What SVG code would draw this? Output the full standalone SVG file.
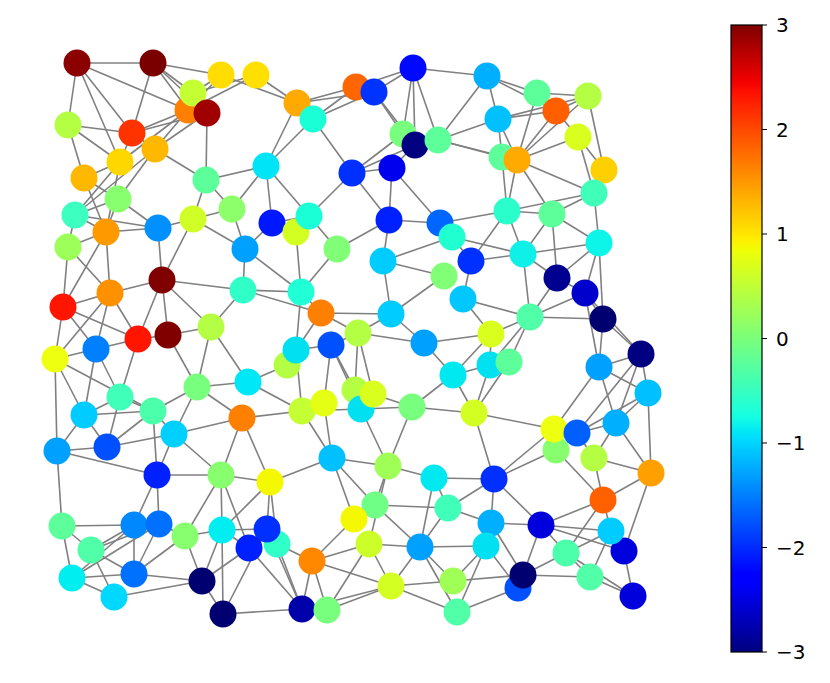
<svg xmlns="http://www.w3.org/2000/svg" width="830" height="683" viewBox="0 0 830 683">
<style>
.edges line{stroke:#808080;stroke-width:1.6}
.tick{stroke:#000;stroke-width:1}
.lbl{font-family:"DejaVu Sans",sans-serif;font-size:20px;fill:#000}
</style>
<defs>
<linearGradient id="jet" x1="0" y1="1" x2="0" y2="0">
<stop offset="0" stop-color="#000080"/>
<stop offset="0.11" stop-color="#0000ff"/>
<stop offset="0.125" stop-color="#0000ff"/>
<stop offset="0.34" stop-color="#00dbff"/>
<stop offset="0.35" stop-color="#00e5f7"/>
<stop offset="0.375" stop-color="#15ffe2"/>
<stop offset="0.5" stop-color="#7bff7b"/>
<stop offset="0.64" stop-color="#eeff08"/>
<stop offset="0.65" stop-color="#f7f500"/>
<stop offset="0.66" stop-color="#ffec00"/>
<stop offset="0.89" stop-color="#ff1300"/>
<stop offset="0.91" stop-color="#f30000"/>
<stop offset="1" stop-color="#800000"/>
</linearGradient>
</defs>
<rect width="830" height="683" fill="#fff"/>
<g class="edges">
<line x1="77" y1="63" x2="153" y2="63"/><line x1="77" y1="63" x2="68" y2="125"/><line x1="77" y1="63" x2="132" y2="133"/><line x1="77" y1="63" x2="120" y2="162"/><line x1="77" y1="63" x2="188" y2="110"/>
<line x1="153" y1="63" x2="221" y2="75"/><line x1="153" y1="63" x2="132" y2="133"/><line x1="153" y1="63" x2="193" y2="93"/><line x1="153" y1="63" x2="188" y2="110"/><line x1="153" y1="63" x2="207" y2="113"/>
<line x1="221" y1="75" x2="193" y2="93"/><line x1="221" y1="75" x2="188" y2="110"/><line x1="221" y1="75" x2="297" y2="103"/>
<line x1="256" y1="75" x2="193" y2="93"/><line x1="256" y1="75" x2="188" y2="110"/><line x1="256" y1="75" x2="297" y2="103"/>
<line x1="68" y1="125" x2="132" y2="133"/><line x1="68" y1="125" x2="120" y2="162"/><line x1="68" y1="125" x2="84" y2="178"/>
<line x1="132" y1="133" x2="155" y2="149"/><line x1="132" y1="133" x2="120" y2="162"/><line x1="132" y1="133" x2="188" y2="110"/><line x1="132" y1="133" x2="207" y2="113"/>
<line x1="155" y1="149" x2="188" y2="110"/><line x1="155" y1="149" x2="207" y2="113"/><line x1="155" y1="149" x2="206" y2="180"/><line x1="155" y1="149" x2="118" y2="199"/><line x1="155" y1="149" x2="75" y2="215"/>
<line x1="120" y1="162" x2="188" y2="110"/><line x1="207" y1="113" x2="206" y2="180"/>
<line x1="120" y1="162" x2="84" y2="178"/><line x1="120" y1="162" x2="75" y2="215"/><line x1="120" y1="162" x2="106" y2="232"/>
<line x1="84" y1="178" x2="118" y2="199"/><line x1="84" y1="178" x2="106" y2="232"/>
<line x1="118" y1="199" x2="75" y2="215"/><line x1="118" y1="199" x2="106" y2="232"/><line x1="118" y1="199" x2="158" y2="228"/>
<line x1="75" y1="215" x2="106" y2="232"/><line x1="75" y1="215" x2="158" y2="228"/><line x1="75" y1="215" x2="68" y2="247"/>
<line x1="106" y1="232" x2="158" y2="228"/><line x1="106" y1="232" x2="68" y2="247"/>
<line x1="158" y1="228" x2="193" y2="219"/><line x1="158" y1="228" x2="162" y2="280"/>
<line x1="206" y1="180" x2="193" y2="219"/><line x1="206" y1="180" x2="232" y2="209"/><line x1="206" y1="180" x2="266" y2="166"/>
<line x1="193" y1="219" x2="232" y2="209"/><line x1="193" y1="219" x2="245" y2="249"/><line x1="193" y1="219" x2="162" y2="280"/>
<line x1="232" y1="209" x2="266" y2="166"/><line x1="232" y1="209" x2="245" y2="249"/>
<line x1="106" y1="232" x2="63" y2="307"/><line x1="106" y1="232" x2="110" y2="293"/><line x1="68" y1="247" x2="63" y2="307"/><line x1="68" y1="247" x2="110" y2="293"/>
<line x1="297" y1="103" x2="356" y2="87"/><line x1="297" y1="103" x2="374" y2="92"/><line x1="297" y1="103" x2="266" y2="166"/>
<line x1="313" y1="119" x2="356" y2="87"/><line x1="313" y1="119" x2="374" y2="92"/><line x1="313" y1="119" x2="266" y2="166"/><line x1="313" y1="119" x2="352" y2="173"/>
<line x1="356" y1="87" x2="413" y2="68"/><line x1="374" y1="92" x2="413" y2="68"/><line x1="374" y1="92" x2="403" y2="134"/><line x1="374" y1="92" x2="415" y2="145"/>
<line x1="413" y1="68" x2="403" y2="134"/><line x1="413" y1="68" x2="415" y2="145"/><line x1="413" y1="68" x2="438" y2="140"/><line x1="413" y1="68" x2="487" y2="76"/>
<line x1="438" y1="140" x2="487" y2="76"/><line x1="438" y1="140" x2="498" y2="119"/><line x1="438" y1="140" x2="502" y2="157"/><line x1="438" y1="140" x2="517" y2="160"/>
<line x1="352" y1="173" x2="403" y2="134"/><line x1="352" y1="173" x2="415" y2="145"/><line x1="352" y1="173" x2="392" y2="168"/><line x1="352" y1="173" x2="389" y2="220"/><line x1="352" y1="173" x2="309" y2="216"/>
<line x1="392" y1="168" x2="415" y2="145"/><line x1="392" y1="168" x2="389" y2="220"/><line x1="392" y1="168" x2="440" y2="223"/>
<line x1="266" y1="166" x2="272" y2="223"/><line x1="266" y1="166" x2="309" y2="216"/>
<line x1="272" y1="223" x2="309" y2="216"/><line x1="272" y1="223" x2="296" y2="232"/><line x1="272" y1="223" x2="245" y2="249"/>
<line x1="309" y1="216" x2="296" y2="232"/><line x1="309" y1="216" x2="337" y2="249"/>
<line x1="296" y1="232" x2="301" y2="292"/><line x1="245" y1="249" x2="301" y2="292"/><line x1="245" y1="249" x2="243" y2="290"/>
<line x1="337" y1="249" x2="389" y2="220"/><line x1="337" y1="249" x2="301" y2="292"/>
<line x1="389" y1="220" x2="440" y2="223"/><line x1="389" y1="220" x2="383" y2="261"/>
<line x1="440" y1="223" x2="452" y2="237"/><line x1="440" y1="223" x2="507" y2="211"/>
<line x1="452" y1="237" x2="383" y2="261"/><line x1="452" y1="237" x2="523" y2="254"/><line x1="452" y1="237" x2="471" y2="261"/>
<line x1="487" y1="76" x2="537" y2="93"/><line x1="487" y1="76" x2="556" y2="111"/><line x1="487" y1="76" x2="498" y2="119"/>
<line x1="537" y1="93" x2="588" y2="96"/><line x1="537" y1="93" x2="517" y2="160"/>
<line x1="498" y1="119" x2="588" y2="96"/><line x1="498" y1="119" x2="556" y2="111"/>
<line x1="588" y1="96" x2="556" y2="111"/><line x1="588" y1="96" x2="604" y2="170"/><line x1="588" y1="96" x2="517" y2="160"/>
<line x1="556" y1="111" x2="517" y2="160"/><line x1="556" y1="111" x2="578" y2="137"/>
<line x1="578" y1="137" x2="517" y2="160"/><line x1="578" y1="137" x2="604" y2="170"/><line x1="578" y1="137" x2="594" y2="193"/>
<line x1="498" y1="119" x2="502" y2="157"/><line x1="498" y1="119" x2="517" y2="160"/>
<line x1="502" y1="157" x2="507" y2="211"/><line x1="517" y1="160" x2="507" y2="211"/><line x1="517" y1="160" x2="594" y2="193"/><line x1="517" y1="160" x2="552" y2="214"/>
<line x1="604" y1="170" x2="594" y2="193"/>
<line x1="594" y1="193" x2="599" y2="243"/><line x1="594" y1="193" x2="552" y2="214"/><line x1="594" y1="193" x2="507" y2="211"/>
<line x1="507" y1="211" x2="552" y2="214"/><line x1="507" y1="211" x2="523" y2="254"/><line x1="507" y1="211" x2="471" y2="261"/>
<line x1="552" y1="214" x2="599" y2="243"/><line x1="599" y1="243" x2="523" y2="254"/><line x1="552" y1="214" x2="523" y2="254"/>
<line x1="162" y1="280" x2="243" y2="290"/><line x1="162" y1="280" x2="110" y2="293"/><line x1="162" y1="280" x2="138" y2="339"/><line x1="162" y1="280" x2="168" y2="335"/><line x1="162" y1="280" x2="211" y2="327"/>
<line x1="243" y1="290" x2="211" y2="327"/><line x1="243" y1="290" x2="301" y2="292"/><line x1="243" y1="290" x2="321" y2="313"/>
<line x1="63" y1="307" x2="110" y2="293"/><line x1="63" y1="307" x2="138" y2="339"/><line x1="63" y1="307" x2="55" y2="359"/><line x1="63" y1="307" x2="96" y2="349"/>
<line x1="110" y1="293" x2="138" y2="339"/><line x1="110" y1="293" x2="55" y2="359"/><line x1="110" y1="293" x2="96" y2="349"/>
<line x1="138" y1="339" x2="96" y2="349"/><line x1="138" y1="339" x2="168" y2="335"/><line x1="138" y1="339" x2="120" y2="397"/>
<line x1="168" y1="335" x2="211" y2="327"/><line x1="168" y1="335" x2="197" y2="387"/>
<line x1="211" y1="327" x2="197" y2="387"/><line x1="211" y1="327" x2="248" y2="382"/>
<line x1="55" y1="359" x2="96" y2="349"/><line x1="55" y1="359" x2="153" y2="411"/><line x1="55" y1="359" x2="84" y2="415"/><line x1="55" y1="359" x2="57" y2="451"/>
<line x1="96" y1="349" x2="120" y2="397"/><line x1="96" y1="349" x2="84" y2="415"/>
<line x1="197" y1="387" x2="248" y2="382"/><line x1="197" y1="387" x2="153" y2="411"/><line x1="197" y1="387" x2="174" y2="434"/><line x1="197" y1="387" x2="242" y2="418"/>
<line x1="120" y1="397" x2="153" y2="411"/><line x1="120" y1="397" x2="84" y2="415"/><line x1="120" y1="397" x2="107" y2="447"/>
<line x1="153" y1="411" x2="84" y2="415"/><line x1="153" y1="411" x2="174" y2="434"/><line x1="153" y1="411" x2="107" y2="447"/><line x1="153" y1="411" x2="157" y2="475"/>
<line x1="84" y1="415" x2="57" y2="451"/><line x1="84" y1="415" x2="107" y2="447"/>
<line x1="174" y1="434" x2="242" y2="418"/><line x1="242" y1="418" x2="221" y2="475"/><line x1="242" y1="418" x2="270" y2="482"/>
<line x1="57" y1="451" x2="107" y2="447"/>
<line x1="301" y1="292" x2="321" y2="313"/><line x1="301" y1="292" x2="296" y2="350"/>
<line x1="383" y1="261" x2="444" y2="276"/><line x1="383" y1="261" x2="391" y2="314"/>
<line x1="321" y1="313" x2="391" y2="314"/><line x1="321" y1="313" x2="358" y2="333"/><line x1="321" y1="313" x2="296" y2="350"/>
<line x1="391" y1="314" x2="358" y2="333"/><line x1="391" y1="314" x2="444" y2="276"/><line x1="391" y1="314" x2="424" y2="343"/>
<line x1="358" y1="333" x2="424" y2="343"/><line x1="358" y1="333" x2="331" y2="345"/><line x1="358" y1="333" x2="355" y2="390"/><line x1="358" y1="333" x2="373" y2="394"/>
<line x1="331" y1="345" x2="296" y2="350"/><line x1="331" y1="345" x2="355" y2="390"/><line x1="331" y1="345" x2="324" y2="403"/><line x1="331" y1="345" x2="361" y2="409"/>
<line x1="296" y1="350" x2="302" y2="411"/><line x1="287" y1="365" x2="248" y2="382"/><line x1="248" y1="382" x2="302" y2="411"/><line x1="242" y1="418" x2="302" y2="411"/>
<line x1="424" y1="343" x2="491" y2="334"/><line x1="424" y1="343" x2="453" y2="375"/>
<line x1="453" y1="375" x2="412" y2="407"/><line x1="453" y1="375" x2="490" y2="365"/>
<line x1="373" y1="394" x2="412" y2="407"/><line x1="361" y1="409" x2="412" y2="407"/>
<line x1="324" y1="403" x2="302" y2="411"/><line x1="302" y1="411" x2="361" y2="409"/><line x1="361" y1="409" x2="388" y2="466"/>
<line x1="324" y1="403" x2="332" y2="458"/><line x1="302" y1="411" x2="332" y2="458"/>
<line x1="412" y1="407" x2="388" y2="466"/><line x1="412" y1="407" x2="474" y2="413"/>
<line x1="523" y1="254" x2="471" y2="261"/><line x1="523" y1="254" x2="557" y2="278"/><line x1="523" y1="254" x2="530" y2="317"/>
<line x1="599" y1="243" x2="557" y2="278"/><line x1="599" y1="243" x2="585" y2="293"/><line x1="599" y1="243" x2="603" y2="319"/>
<line x1="552" y1="214" x2="557" y2="278"/><line x1="557" y1="278" x2="585" y2="293"/><line x1="557" y1="278" x2="530" y2="317"/>
<line x1="585" y1="293" x2="530" y2="317"/><line x1="585" y1="293" x2="603" y2="319"/><line x1="530" y1="317" x2="603" y2="319"/>
<line x1="471" y1="261" x2="463" y2="299"/><line x1="463" y1="299" x2="530" y2="317"/><line x1="463" y1="299" x2="491" y2="334"/>
<line x1="530" y1="317" x2="491" y2="334"/><line x1="530" y1="317" x2="509" y2="362"/><line x1="530" y1="317" x2="490" y2="365"/>
<line x1="491" y1="334" x2="490" y2="365"/><line x1="491" y1="334" x2="453" y2="375"/>
<line x1="490" y1="365" x2="474" y2="413"/><line x1="509" y1="362" x2="474" y2="413"/><line x1="453" y1="375" x2="474" y2="413"/>
<line x1="603" y1="319" x2="641" y2="354"/><line x1="585" y1="293" x2="641" y2="354"/><line x1="603" y1="319" x2="599" y2="367"/><line x1="585" y1="293" x2="599" y2="367"/>
<line x1="641" y1="354" x2="599" y2="367"/><line x1="641" y1="354" x2="648" y2="393"/><line x1="641" y1="354" x2="616" y2="423"/><line x1="641" y1="354" x2="577" y2="433"/>
<line x1="599" y1="367" x2="648" y2="393"/><line x1="599" y1="367" x2="616" y2="423"/><line x1="599" y1="367" x2="554" y2="429"/>
<line x1="648" y1="393" x2="577" y2="433"/><line x1="648" y1="393" x2="616" y2="423"/><line x1="648" y1="393" x2="651" y2="473"/>
<line x1="474" y1="413" x2="554" y2="429"/><line x1="474" y1="413" x2="494" y2="479"/><line x1="554" y1="429" x2="494" y2="479"/>
<line x1="577" y1="433" x2="616" y2="423"/><line x1="577" y1="433" x2="594" y2="458"/><line x1="616" y1="423" x2="594" y2="458"/><line x1="616" y1="423" x2="651" y2="473"/>
<line x1="57" y1="451" x2="157" y2="475"/><line x1="57" y1="451" x2="62" y2="526"/>
<line x1="107" y1="447" x2="174" y2="434"/><line x1="174" y1="434" x2="157" y2="475"/>
<line x1="157" y1="475" x2="221" y2="475"/><line x1="157" y1="475" x2="159" y2="524"/><line x1="157" y1="475" x2="134" y2="525"/>
<line x1="174" y1="434" x2="221" y2="475"/><line x1="221" y1="475" x2="222" y2="530"/><line x1="221" y1="475" x2="185" y2="536"/><line x1="221" y1="475" x2="249" y2="548"/>
<line x1="62" y1="526" x2="134" y2="525"/><line x1="62" y1="526" x2="91" y2="550"/><line x1="62" y1="526" x2="72" y2="578"/>
<line x1="134" y1="525" x2="159" y2="524"/><line x1="134" y1="525" x2="91" y2="550"/><line x1="134" y1="525" x2="72" y2="578"/><line x1="159" y1="524" x2="72" y2="578"/><line x1="159" y1="524" x2="91" y2="550"/>
<line x1="134" y1="525" x2="134" y2="574"/><line x1="159" y1="524" x2="134" y2="574"/><line x1="159" y1="524" x2="185" y2="536"/><line x1="185" y1="536" x2="134" y2="574"/>
<line x1="185" y1="536" x2="222" y2="530"/><line x1="185" y1="536" x2="202" y2="581"/>
<line x1="222" y1="530" x2="202" y2="581"/><line x1="222" y1="530" x2="223" y2="614"/><line x1="222" y1="530" x2="249" y2="548"/>
<line x1="91" y1="550" x2="134" y2="574"/><line x1="91" y1="550" x2="114" y2="597"/>
<line x1="72" y1="578" x2="134" y2="574"/><line x1="72" y1="578" x2="114" y2="597"/>
<line x1="134" y1="574" x2="202" y2="581"/><line x1="114" y1="597" x2="202" y2="581"/><line x1="202" y1="581" x2="223" y2="614"/><line x1="202" y1="581" x2="249" y2="548"/>
<line x1="223" y1="614" x2="302" y2="609"/><line x1="223" y1="614" x2="267" y2="529"/>
<line x1="332" y1="458" x2="388" y2="466"/><line x1="332" y1="458" x2="270" y2="482"/><line x1="332" y1="458" x2="375" y2="505"/><line x1="332" y1="458" x2="354" y2="519"/>
<line x1="270" y1="482" x2="221" y2="475"/><line x1="270" y1="482" x2="267" y2="529"/><line x1="270" y1="482" x2="277" y2="544"/><line x1="270" y1="482" x2="222" y2="530"/>
<line x1="388" y1="466" x2="434" y2="478"/><line x1="388" y1="466" x2="375" y2="505"/><line x1="388" y1="466" x2="369" y2="544"/>
<line x1="434" y1="478" x2="448" y2="508"/><line x1="434" y1="478" x2="420" y2="547"/><line x1="434" y1="478" x2="494" y2="479"/>
<line x1="375" y1="505" x2="448" y2="508"/><line x1="375" y1="505" x2="354" y2="519"/><line x1="375" y1="505" x2="420" y2="547"/>
<line x1="448" y1="508" x2="420" y2="547"/><line x1="448" y1="508" x2="494" y2="479"/>
<line x1="354" y1="519" x2="312" y2="561"/>
<line x1="369" y1="544" x2="420" y2="547"/><line x1="369" y1="544" x2="312" y2="561"/><line x1="369" y1="544" x2="391" y2="586"/><line x1="369" y1="544" x2="327" y2="610"/>
<line x1="420" y1="547" x2="391" y2="586"/><line x1="420" y1="547" x2="453" y2="581"/><line x1="420" y1="547" x2="457" y2="612"/><line x1="420" y1="547" x2="486" y2="546"/>
<line x1="312" y1="561" x2="391" y2="586"/><line x1="312" y1="561" x2="302" y2="609"/><line x1="312" y1="561" x2="327" y2="610"/><line x1="312" y1="561" x2="277" y2="544"/>
<line x1="391" y1="586" x2="453" y2="581"/><line x1="391" y1="586" x2="327" y2="610"/><line x1="391" y1="586" x2="302" y2="609"/><line x1="391" y1="586" x2="457" y2="612"/>
<line x1="277" y1="544" x2="302" y2="609"/><line x1="267" y1="529" x2="302" y2="609"/><line x1="249" y1="548" x2="302" y2="609"/>
<line x1="302" y1="609" x2="327" y2="610"/><line x1="249" y1="548" x2="267" y2="529"/><line x1="267" y1="529" x2="222" y2="530"/>
<line x1="494" y1="479" x2="556" y2="450"/><line x1="494" y1="479" x2="491" y2="523"/><line x1="494" y1="479" x2="541" y2="525"/>
<line x1="556" y1="450" x2="603" y2="500"/><line x1="594" y1="458" x2="603" y2="500"/><line x1="594" y1="458" x2="651" y2="473"/>
<line x1="651" y1="473" x2="603" y2="500"/><line x1="651" y1="473" x2="624" y2="551"/>
<line x1="603" y1="500" x2="541" y2="525"/><line x1="603" y1="500" x2="611" y2="531"/><line x1="603" y1="500" x2="566" y2="553"/>
<line x1="491" y1="523" x2="541" y2="525"/><line x1="491" y1="523" x2="486" y2="546"/><line x1="491" y1="523" x2="523" y2="575"/><line x1="491" y1="523" x2="448" y2="508"/>
<line x1="541" y1="525" x2="611" y2="531"/><line x1="541" y1="525" x2="566" y2="553"/><line x1="541" y1="525" x2="523" y2="575"/><line x1="541" y1="525" x2="624" y2="551"/>
<line x1="611" y1="531" x2="566" y2="553"/><line x1="611" y1="531" x2="624" y2="551"/><line x1="624" y1="551" x2="633" y2="596"/>
<line x1="486" y1="546" x2="518" y2="588"/><line x1="486" y1="546" x2="453" y2="581"/><line x1="486" y1="546" x2="457" y2="612"/>
<line x1="566" y1="553" x2="523" y2="575"/><line x1="566" y1="553" x2="590" y2="577"/><line x1="566" y1="553" x2="633" y2="596"/>
<line x1="523" y1="575" x2="590" y2="577"/><line x1="523" y1="575" x2="453" y2="581"/><line x1="518" y1="588" x2="457" y2="612"/>
<line x1="590" y1="577" x2="633" y2="596"/><line x1="590" y1="577" x2="611" y2="531"/>
</g>
<g class="nodes">
<g id="n1"><circle cx="77" cy="63" r="13.5" fill="#8b0000"/></g>
<g id="n2"><circle cx="153" cy="63" r="13.5" fill="#7a0000"/></g>
<g id="n3"><circle cx="221" cy="75" r="13.5" fill="#ffdd00"/></g>
<g id="n4"><circle cx="256" cy="75" r="13.5" fill="#ffe000"/></g>
<g id="n6"><circle cx="188" cy="110" r="13.5" fill="#ff8000"/></g>
<g id="n5"><circle cx="193" cy="93" r="13.5" fill="#c4ff33"/></g>
<g id="n7"><circle cx="207" cy="113" r="13.5" fill="#a00000"/></g>
<g id="n8"><circle cx="68" cy="125" r="13.5" fill="#b4ff44"/></g>
<g id="n9"><circle cx="132" cy="133" r="13.5" fill="#ff3300"/></g>
<g id="n10"><circle cx="155" cy="149" r="13.5" fill="#ffb800"/></g>
<g id="n11"><circle cx="120" cy="162" r="13.5" fill="#ffd700"/></g>
<g id="n12"><circle cx="84" cy="178" r="13.5" fill="#ffb800"/></g>
<g id="n13"><circle cx="206" cy="180" r="13.5" fill="#5cff9a"/></g>
<g id="n14"><circle cx="118" cy="199" r="13.5" fill="#88ff6f"/></g>
<g id="n15"><circle cx="75" cy="215" r="13.5" fill="#3cffc0"/></g>
<g id="n16"><circle cx="106" cy="232" r="13.5" fill="#ff9900"/></g>
<g id="n17"><circle cx="158" cy="228" r="13.5" fill="#0090ff"/></g>
<g id="n18"><circle cx="193" cy="219" r="13.5" fill="#d0ff28"/></g>
<g id="n19"><circle cx="232" cy="209" r="13.5" fill="#8cff6a"/></g>
<g id="n20"><circle cx="68" cy="247" r="13.5" fill="#9cff5a"/></g>
<g id="n21"><circle cx="245" cy="249" r="13.5" fill="#00a0ff"/></g>
<g id="n22"><circle cx="266" cy="166" r="13.5" fill="#00e4f8"/></g>
<g id="n23"><circle cx="297" cy="103" r="13.5" fill="#ffaa00"/></g>
<g id="n24"><circle cx="313" cy="119" r="13.5" fill="#1affd5"/></g>
<g id="n25"><circle cx="356" cy="87" r="13.5" fill="#ff6600"/></g>
<g id="n26"><circle cx="374" cy="92" r="13.5" fill="#0033ff"/></g>
<g id="n27"><circle cx="413" cy="68" r="13.5" fill="#0008ff"/></g>
<g id="n28"><circle cx="403" cy="134" r="13.5" fill="#78ff7e"/></g>
<g id="n29"><circle cx="415" cy="145" r="13.5" fill="#000080"/></g>
<g id="n30"><circle cx="438" cy="140" r="13.5" fill="#5cff9a"/></g>
<g id="n31"><circle cx="352" cy="173" r="13.5" fill="#0030ff"/></g>
<g id="n32"><circle cx="392" cy="168" r="13.5" fill="#0000ee"/></g>
<g id="n33"><circle cx="272" cy="223" r="13.5" fill="#0018ff"/></g>
<g id="n35"><circle cx="296" cy="232" r="13.5" fill="#d4ff22"/></g>
<g id="n34"><circle cx="309" cy="216" r="13.5" fill="#1affd5"/></g>
<g id="n36"><circle cx="337" cy="249" r="13.5" fill="#80ff77"/></g>
<g id="n37"><circle cx="389" cy="220" r="13.5" fill="#0020ff"/></g>
<g id="n38"><circle cx="440" cy="223" r="13.5" fill="#0066ff"/></g>
<g id="n39"><circle cx="452" cy="237" r="13.5" fill="#20ffd0"/></g>
<g id="n40"><circle cx="383" cy="261" r="13.5" fill="#00ccff"/></g>
<g id="n41"><circle cx="487" cy="76" r="13.5" fill="#00b0ff"/></g>
<g id="n42"><circle cx="537" cy="93" r="13.5" fill="#5cff9a"/></g>
<g id="n43"><circle cx="588" cy="96" r="13.5" fill="#b4ff44"/></g>
<g id="n44"><circle cx="556" cy="111" r="13.5" fill="#ff5f00"/></g>
<g id="n45"><circle cx="498" cy="119" r="13.5" fill="#00c0ff"/></g>
<g id="n46"><circle cx="578" cy="137" r="13.5" fill="#d8ff1e"/></g>
<g id="n47"><circle cx="502" cy="157" r="13.5" fill="#5cff9a"/></g>
<g id="n48"><circle cx="517" cy="160" r="13.5" fill="#ffaa00"/></g>
<g id="n49"><circle cx="604" cy="170" r="13.5" fill="#ffd000"/></g>
<g id="n50"><circle cx="594" cy="193" r="13.5" fill="#40ffb8"/></g>
<g id="n51"><circle cx="507" cy="211" r="13.5" fill="#2affcc"/></g>
<g id="n52"><circle cx="552" cy="214" r="13.5" fill="#5cff9a"/></g>
<g id="n53"><circle cx="599" cy="243" r="13.5" fill="#0cf5e8"/></g>
<g id="n54"><circle cx="523" cy="254" r="13.5" fill="#0ff0e8"/></g>
<g id="n55"><circle cx="471" cy="261" r="13.5" fill="#0030ff"/></g>
<g id="n56"><circle cx="162" cy="280" r="13.5" fill="#800000"/></g>
<g id="n57"><circle cx="243" cy="290" r="13.5" fill="#30ffc8"/></g>
<g id="n58"><circle cx="63" cy="307" r="13.5" fill="#ff1500"/></g>
<g id="n59"><circle cx="110" cy="293" r="13.5" fill="#ff9000"/></g>
<g id="n60"><circle cx="138" cy="339" r="13.5" fill="#ff1500"/></g>
<g id="n61"><circle cx="168" cy="335" r="13.5" fill="#800000"/></g>
<g id="n62"><circle cx="211" cy="327" r="13.5" fill="#b4ff44"/></g>
<g id="n63"><circle cx="55" cy="359" r="13.5" fill="#eeff10"/></g>
<g id="n64"><circle cx="96" cy="349" r="13.5" fill="#0080ff"/></g>
<g id="n65"><circle cx="197" cy="387" r="13.5" fill="#78ff7e"/></g>
<g id="n66"><circle cx="248" cy="382" r="13.5" fill="#00e8f8"/></g>
<g id="n67"><circle cx="120" cy="397" r="13.5" fill="#40ffb8"/></g>
<g id="n68"><circle cx="153" cy="411" r="13.5" fill="#4cffab"/></g>
<g id="n69"><circle cx="84" cy="415" r="13.5" fill="#00ccff"/></g>
<g id="n70"><circle cx="174" cy="434" r="13.5" fill="#00d0ff"/></g>
<g id="n71"><circle cx="242" cy="418" r="13.5" fill="#ff8000"/></g>
<g id="n72"><circle cx="57" cy="451" r="13.5" fill="#00a0ff"/></g>
<g id="n73"><circle cx="107" cy="447" r="13.5" fill="#0050ff"/></g>
<g id="n74"><circle cx="301" cy="292" r="13.5" fill="#20ffd5"/></g>
<g id="n75"><circle cx="444" cy="276" r="13.5" fill="#80ff77"/></g>
<g id="n76"><circle cx="463" cy="299" r="13.5" fill="#00c8ff"/></g>
<g id="n77"><circle cx="321" cy="313" r="13.5" fill="#ff7f00"/></g>
<g id="n78"><circle cx="391" cy="314" r="13.5" fill="#00ccff"/></g>
<g id="n79"><circle cx="358" cy="333" r="13.5" fill="#b4ff44"/></g>
<g id="n80"><circle cx="331" cy="345" r="13.5" fill="#0050ff"/></g>
<g id="n81"><circle cx="424" cy="343" r="13.5" fill="#00a0ff"/></g>
<g id="n83"><circle cx="287" cy="365" r="13.5" fill="#b4ff44"/></g>
<g id="n82"><circle cx="296" cy="350" r="13.5" fill="#00e0f0"/></g>
<g id="n84"><circle cx="453" cy="375" r="13.5" fill="#00e8f0"/></g>
<g id="n85"><circle cx="355" cy="390" r="13.5" fill="#b4ff44"/></g>
<g id="n89"><circle cx="361" cy="409" r="13.5" fill="#00e0f0"/></g>
<g id="n86"><circle cx="373" cy="394" r="13.5" fill="#d8ff1e"/></g>
<g id="n88"><circle cx="302" cy="411" r="13.5" fill="#c4ff33"/></g>
<g id="n87"><circle cx="324" cy="403" r="13.5" fill="#e4ff14"/></g>
<g id="n90"><circle cx="412" cy="407" r="13.5" fill="#78ff7e"/></g>
<g id="n91"><circle cx="474" cy="413" r="13.5" fill="#d4ff22"/></g>
<g id="n92"><circle cx="557" cy="278" r="13.5" fill="#000090"/></g>
<g id="n93"><circle cx="585" cy="293" r="13.5" fill="#0000cc"/></g>
<g id="n94"><circle cx="603" cy="319" r="13.5" fill="#000070"/></g>
<g id="n95"><circle cx="530" cy="317" r="13.5" fill="#50ffa7"/></g>
<g id="n96"><circle cx="491" cy="334" r="13.5" fill="#d8ff1e"/></g>
<g id="n97"><circle cx="490" cy="365" r="13.5" fill="#00e0f0"/></g>
<g id="n98"><circle cx="509" cy="362" r="13.5" fill="#5cff9a"/></g>
<g id="n99"><circle cx="641" cy="354" r="13.5" fill="#000080"/></g>
<g id="n100"><circle cx="599" cy="367" r="13.5" fill="#00a0ff"/></g>
<g id="n101"><circle cx="648" cy="393" r="13.5" fill="#00c0ff"/></g>
<g id="n102"><circle cx="616" cy="423" r="13.5" fill="#00b0ff"/></g>
<g id="n105"><circle cx="556" cy="450" r="13.5" fill="#88ff6f"/></g>
<g id="n103"><circle cx="554" cy="429" r="13.5" fill="#eeff10"/></g>
<g id="n104"><circle cx="577" cy="433" r="13.5" fill="#0060ff"/></g>
<g id="n106"><circle cx="594" cy="458" r="13.5" fill="#b4ff44"/></g>
<g id="n107"><circle cx="651" cy="473" r="13.5" fill="#ffa000"/></g>
<g id="n108"><circle cx="157" cy="475" r="13.5" fill="#0020ff"/></g>
<g id="n109"><circle cx="221" cy="475" r="13.5" fill="#88ff6f"/></g>
<g id="n110"><circle cx="62" cy="526" r="13.5" fill="#5cff9a"/></g>
<g id="n111"><circle cx="134" cy="525" r="13.5" fill="#0088ff"/></g>
<g id="n112"><circle cx="159" cy="524" r="13.5" fill="#0070ff"/></g>
<g id="n113"><circle cx="185" cy="536" r="13.5" fill="#88ff6f"/></g>
<g id="n114"><circle cx="222" cy="530" r="13.5" fill="#00eef0"/></g>
<g id="n115"><circle cx="91" cy="550" r="13.5" fill="#50ffa7"/></g>
<g id="n116"><circle cx="72" cy="578" r="13.5" fill="#00eef0"/></g>
<g id="n117"><circle cx="134" cy="574" r="13.5" fill="#0070ff"/></g>
<g id="n118"><circle cx="114" cy="597" r="13.5" fill="#00d8ff"/></g>
<g id="n119"><circle cx="202" cy="581" r="13.5" fill="#000070"/></g>
<g id="n120"><circle cx="223" cy="614" r="13.5" fill="#000070"/></g>
<g id="n123"><circle cx="277" cy="544" r="13.5" fill="#30ffc8"/></g>
<g id="n122"><circle cx="267" cy="529" r="13.5" fill="#0030ff"/></g>
<g id="n121"><circle cx="249" cy="548" r="13.5" fill="#0020ff"/></g>
<g id="n124"><circle cx="270" cy="482" r="13.5" fill="#f4f800"/></g>
<g id="n125"><circle cx="332" cy="458" r="13.5" fill="#00c0ff"/></g>
<g id="n126"><circle cx="388" cy="466" r="13.5" fill="#a0ff56"/></g>
<g id="n127"><circle cx="434" cy="478" r="13.5" fill="#00e8f0"/></g>
<g id="n128"><circle cx="375" cy="505" r="13.5" fill="#70ff86"/></g>
<g id="n129"><circle cx="448" cy="508" r="13.5" fill="#40ffb8"/></g>
<g id="n130"><circle cx="354" cy="519" r="13.5" fill="#f4f800"/></g>
<g id="n131"><circle cx="369" cy="544" r="13.5" fill="#ccff2a"/></g>
<g id="n132"><circle cx="420" cy="547" r="13.5" fill="#00a0ff"/></g>
<g id="n133"><circle cx="312" cy="561" r="13.5" fill="#ff8800"/></g>
<g id="n134"><circle cx="391" cy="586" r="13.5" fill="#d4ff22"/></g>
<g id="n135"><circle cx="453" cy="581" r="13.5" fill="#a0ff56"/></g>
<g id="n136"><circle cx="457" cy="612" r="13.5" fill="#50ffa7"/></g>
<g id="n137"><circle cx="302" cy="609" r="13.5" fill="#0000aa"/></g>
<g id="n138"><circle cx="327" cy="610" r="13.5" fill="#78ff7e"/></g>
<g id="n139"><circle cx="494" cy="479" r="13.5" fill="#0030ff"/></g>
<g id="n140"><circle cx="603" cy="500" r="13.5" fill="#ff6000"/></g>
<g id="n141"><circle cx="491" cy="523" r="13.5" fill="#00b0ff"/></g>
<g id="n142"><circle cx="541" cy="525" r="13.5" fill="#0000dd"/></g>
<g id="n144"><circle cx="624" cy="551" r="13.5" fill="#0000dd"/></g>
<g id="n143"><circle cx="611" cy="531" r="13.5" fill="#00ccff"/></g>
<g id="n145"><circle cx="486" cy="546" r="13.5" fill="#00e0f0"/></g>
<g id="n146"><circle cx="566" cy="553" r="13.5" fill="#4cffab"/></g>
<g id="n148"><circle cx="518" cy="588" r="13.5" fill="#0050ff"/></g>
<g id="n147"><circle cx="523" cy="575" r="13.5" fill="#000070"/></g>
<g id="n149"><circle cx="590" cy="577" r="13.5" fill="#50ffa7"/></g>
<g id="n150"><circle cx="633" cy="596" r="13.5" fill="#0000dd"/></g>
</g>
<g id="colorbar">
<rect x="731" y="25" width="31" height="627" fill="url(#jet)" stroke="#000" stroke-width="1.2"/>
<line class="tick" x1="762" y1="25" x2="767" y2="25"/>
<line class="tick" x1="762" y1="129.5" x2="767" y2="129.5"/>
<line class="tick" x1="762" y1="234" x2="767" y2="234"/>
<line class="tick" x1="762" y1="338.5" x2="767" y2="338.5"/>
<line class="tick" x1="762" y1="443" x2="767" y2="443"/>
<line class="tick" x1="762" y1="547.5" x2="767" y2="547.5"/>
<line class="tick" x1="762" y1="652" x2="767" y2="652"/>
<text class="lbl" x="776" y="32">3</text>
<text class="lbl" x="776" y="136.5">2</text>
<text class="lbl" x="776" y="241">1</text>
<text class="lbl" x="776" y="345.5">0</text>
<text class="lbl" x="776" y="450">−1</text>
<text class="lbl" x="776" y="554.5">−2</text>
<text class="lbl" x="776" y="659">−3</text>
</g>
</svg>
